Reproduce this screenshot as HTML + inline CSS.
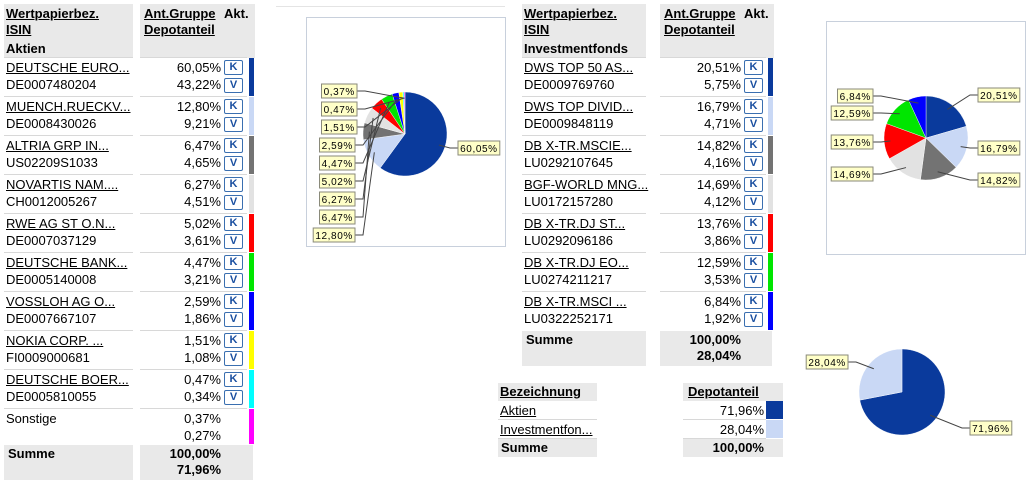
<!DOCTYPE html>
<html><head><meta charset="utf-8">
<style>
body{margin:0;width:1035px;height:483px;background:#fff;position:relative;overflow:hidden;font-family:"Liberation Sans",Arial,sans-serif;font-size:13px;color:#000}
.a{position:absolute;white-space:nowrap}
.hd{background:#e9e9e9}
.u{text-decoration:underline}
.b{font-weight:bold}
.btn{position:absolute;width:17px;height:13px;border:1px solid #3a6fb0;border-radius:2px;background:#fff;color:#1a4fa0;font-weight:bold;font-size:11px;line-height:13px;text-align:center}
.sep{position:absolute;height:1px;background:#d8d8d8}
svg{position:absolute;left:0;top:0}
.lbl{font-family:"Liberation Sans",sans-serif;font-size:10px;letter-spacing:0.6px}
</style></head>
<body>
<svg id="svg" width="1035" height="483"></svg>
<script>
// ---- data ----
const leftNames=["DEUTSCHE EURO...","MUENCH.RUECKV...","ALTRIA GRP IN...","NOVARTIS NAM....","RWE AG ST O.N...","DEUTSCHE BANK...","VOSSLOH AG O...","NOKIA CORP. ...","DEUTSCHE BOER...","Sonstige"];
const leftIsins=["DE0007480204","DE0008430026","US02209S1033","CH0012005267","DE0007037129","DE0005140008","DE0007667107","FI0009000681","DE0005810055",""];
const leftGroup=[60.05,12.80,6.47,6.27,5.02,4.47,2.59,1.51,0.47,0.37];
const leftDepot=[43.22,9.21,4.65,4.51,3.61,3.21,1.86,1.08,0.34,0.27];
const leftColors=["#0a3a9c","#c9d8f5","#737373","#e2e2e2","#ff0000","#00e600","#0000ff","#ffff00","#00ffff","#ff00ff"];
const rightNames=["DWS TOP 50 AS...","DWS TOP DIVID...","DB X-TR.MSCIE...","BGF-WORLD MNG...","DB X-TR.DJ ST...","DB X-TR.DJ EO...","DB X-TR.MSCI ..."];
const rightIsins=["DE0009769760","DE0009848119","LU0292107645","LU0172157280","LU0292096186","LU0274211217","LU0322252171"];
const rightGroup=[20.51,16.79,14.82,14.69,13.76,12.59,6.84];
const rightDepot=[5.75,4.71,4.16,4.12,3.86,3.53,1.92];
const rightColors=["#0a3a9c","#c9d8f5","#737373","#e2e2e2","#ff0000","#00e600","#0000ff"];
const sumCats=["Aktien","Investmentfon..."];
const sumValues=[71.96,28.04];
const sumColors=["#0a3a9c","#c9d8f5"];

const fmt=v=>v.toFixed(2).replace('.',',')+'%';
function mk(parent,cls,css,text){const e=document.createElement('div');e.className='a '+(cls||'');e.style.cssText=css;if(text!==undefined)e.textContent=text;parent.appendChild(e);return e;}
const B=document.body;

function table(x0,nameW,vx,vw,title,names,isins,grp,dep,colors,summe){
  let e;
  e=mk(B,'hd','left:'+x0+'px;top:4px;width:'+nameW+'px;height:54px');
  
  
  e=mk(B,'hd','left:'+vx+'px;top:4px;width:'+vw+'px;height:54px');
  
  
  e=mk(B,'b u','left:'+(x0+2)+'px;top:6px;line-height:16px','Wertpapierbez.');
  
  
  e=mk(B,'b u','left:'+(x0+2)+'px;top:22px;line-height:16px','ISIN');
  
  
  e=mk(B,'b u','left:'+(vx+4)+'px;top:6px;line-height:16px','Ant.Gruppe');
  
  
  e=mk(B,'b','left:'+(vx+84)+'px;top:6px;line-height:16px','Akt.');
  
  
  e=mk(B,'b u','left:'+(vx+4)+'px;top:22px;line-height:16px','Depotanteil');
  
  
  e=mk(B,'b','left:'+(x0+2)+'px;top:41px;line-height:16px',title);
  
  
  const rh=39;
  names.forEach((n,i)=>{
    const y=58+i*rh;
    const isLink=isins[i]!=='';
    let s=mk(B,'sep','left:'+x0+'px;top:'+(y-1)+'px;width:'+nameW+'px');
    
    
    s=mk(B,'sep','left:'+vx+'px;top:'+(y-1)+'px;width:'+(vw-8)+'px');
    
    
    let t=mk(B,isLink?'u':'','left:'+(x0+2)+'px;top:'+(y+2)+'px;line-height:16px',n);
    
    
    if(isLink){
      t=mk(B,'','left:'+(x0+2)+'px;top:'+(y+19)+'px;line-height:16px',isins[i]);
      
      
    }
    t=mk(B,'','right:'+(1035-(vx+81))+'px;top:'+(y+2)+'px;line-height:16px;text-align:right',fmt(grp[i]));
    
    
    t=mk(B,'','right:'+(1035-(vx+81))+'px;top:'+(y+19)+'px;line-height:16px;text-align:right',fmt(dep[i]));
    
    
    if(isLink){
      let k=mk(B,'btn','left:'+(vx+84)+'px;top:'+(y+2)+'px','K');
      
      
      let v=mk(B,'btn','left:'+(vx+84)+'px;top:'+(y+20)+'px','V');
      
      
    }
    const bh=(i===names.length-1&&!isLink)?36:rh;
    let c=mk(B,'','left:'+(vx+vw-6)+'px;top:'+y+'px;width:5px;height:'+(bh-1)+'px;background:'+colors[i]);
    
    
  });
  const last=isins[isins.length-1]==='';
  const sy=58+(names.length-1)*rh+(last?36:rh);
  e=mk(B,'hd','left:'+x0+'px;top:'+sy+'px;width:'+nameW+'px;height:35px');
  
  
  e=mk(B,'hd','left:'+vx+'px;top:'+sy+'px;width:'+(vw-2)+'px;height:35px');
  
  
  e=mk(B,'b','left:'+(x0+4)+'px;top:'+(sy+1)+'px;line-height:16px','Summe');
  
  
  e=mk(B,'b','right:'+(1035-(vx+81))+'px;top:'+(sy+1)+'px;line-height:16px','100,00%');
  
  
  e=mk(B,'b','right:'+(1035-(vx+81))+'px;top:'+(sy+17)+'px;line-height:16px',summe);
  
  
}
table(4,129,140,115,'Aktien',leftNames,leftIsins,leftGroup,leftDepot,leftColors,'71,96%');
table(522,124,660,114,'Investmentfonds',rightNames,rightIsins,rightGroup,rightDepot,rightColors,'28,04%');

// summary table
let e;
e=mk(B,'hd','left:498px;top:383px;width:99px;height:18px');


e=mk(B,'hd','left:683px;top:383px;width:100px;height:18px');


e=mk(B,'b u','left:500px;top:384px;line-height:16px','Bezeichnung');


e=mk(B,'b u','left:688px;top:384px;line-height:16px','Depotanteil');


sumCats.forEach((c,i)=>{
  const y=401+i*19;
  let s=mk(B,'sep','left:498px;top:'+(y+18)+'px;width:99px');
  
  
  s=mk(B,'sep','left:683px;top:'+(y+18)+'px;width:83px');
  
  
  let t=mk(B,'u','left:500px;top:'+(y+2)+'px;line-height:16px',c);
  
  
  t=mk(B,'','right:'+(1035-764)+'px;top:'+(y+2)+'px;line-height:16px',fmt(sumValues[i]));
  
  
  t=mk(B,'','left:766px;top:'+y+'px;width:17px;height:18px;background:'+sumColors[i]);
  
  
});
e=mk(B,'hd','left:498px;top:439px;width:99px;height:18px');


e=mk(B,'hd','left:683px;top:439px;width:100px;height:18px');


e=mk(B,'b','left:501px;top:440px;line-height:16px','Summe');


e=mk(B,'b','right:'+(1035-764)+'px;top:440px;line-height:16px','100,00%');



// ---- pies ----
const NS='http://www.w3.org/2000/svg';
const svg=document.getElementById('svg');
function sv(tag,attrs,parent){const el=document.createElementNS(NS,tag);for(const k in attrs)el.setAttribute(k,attrs[k]);(parent||svg).appendChild(el);return el;}
function pt(cx,cy,r,a){return [cx+r*Math.sin(a),cy-r*Math.cos(a)];}
function drawPie(cx,cy,r,vals,cols){
  const tot=vals.reduce((a,b)=>a+b,0);let a0=0;const mids=[];
  vals.forEach((v,i)=>{
    const a1=a0+v/tot*2*Math.PI;
    const p0=pt(cx,cy,r,a0),p1=pt(cx,cy,r,a1);
    const p=sv('path',{d:`M${cx},${cy}L${p0[0]},${p0[1]}A${r},${r} 0 ${a1-a0>Math.PI?1:0} 1 ${p1[0]},${p1[1]}Z`,fill:cols[i],stroke:'#fff','stroke-width':0.4});
    
    
    mids.push((a0+a1)/2);a0=a1;
  });
  return mids;
}
function label(x,y,txt,anchorRight){
  const w=txt.length*6.3+4;const lx=anchorRight?x-w:x;
  const r=sv('rect',{x:lx,y:y-7,width:w,height:14,fill:'#ffffc8',stroke:'#8a8a7a','stroke-width':1});
  
  
  const t=sv('text',{x:lx+w/2,y:y+4,'text-anchor':'middle',class:'lbl'});
  t.textContent=txt;
  
  
  return w;
}
function leader(x1,y1,x2,y2){const l=sv('polyline',{points:`${x1},${y1} ${x1+(x2>x1?8:-8)},${y1} ${x2},${y2}`,fill:'none',stroke:'#444','stroke-width':1});
  
  }
function box(x,y,w,h,name){const r=sv('rect',{x:x+.5,y:y+.5,width:w,height:h,fill:'#fff',stroke:'#c8d0dc'});
  
  }

// left pie
let fl=sv('line',{x1:276,y1:6.5,x2:505,y2:6.5,stroke:'#e4e4e4'});


box(306,17,199,229,'stocks-pie-frame');
{
  const cx=405,cy=134,r=42;
  const m=drawPie(cx,cy,r,leftGroup,leftColors);
  const p=pt(cx,cy,r*0.85,m[0]);
  leader(458,148,p[0],p[1]);
  label(458,148,fmt(leftGroup[0]),false);
  for(let i=1;i<leftGroup.length;i++){
    const k=leftGroup.length-1-i;
    const y=91+k*18;
    const q=pt(cx,cy,r*0.85,m[i]);
    const xr=i>=7?357:355;
    leader(xr,y,q[0],q[1]);
    label(xr,y,fmt(leftGroup[i]),true);
  }
}
// right pie
box(826,21,199,233,'funds-pie-frame');
{
  const cx=926,cy=138,r=42;
  const m=drawPie(cx,cy,r,rightGroup,rightColors);
  const ly=[95,148,180,174,142,113,96];
  m.forEach((a,i)=>{
    const q=pt(cx,cy,r*0.85,a);
    const right=a<Math.PI;
    const x=right?978:873;
    leader(x,ly[i],q[0],q[1]);
    label(x,ly[i],fmt(rightGroup[i]),!right);
  });
}
// summary pie
{
  const cx=902,cy=392,r=43;
  const m=drawPie(cx,cy,r,sumValues,sumColors);
  const ly=[428,362];
  m.forEach((a,i)=>{
    const q=pt(cx,cy,r*0.85,a);
    const right=a<Math.PI;
    const x=right?970:848;
    leader(x,ly[i],q[0],q[1]);
    label(x,ly[i],fmt(sumValues[i]),!right);
  });
}
</script>
</body></html>
